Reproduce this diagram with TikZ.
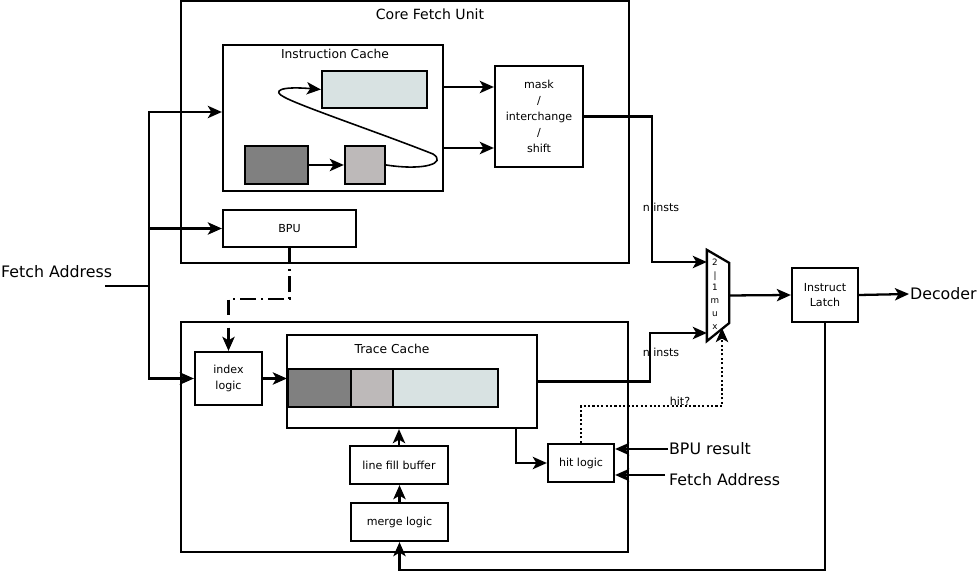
\documentclass[tikz,border=0pt]{standalone}
\usepackage{fontspec}
\setmainfont{DejaVu Sans}
\usetikzlibrary{arrows.meta}
\definecolor{cachedark}{HTML}{808080}
\definecolor{cachemid}{HTML}{BDB9B9}
\definecolor{cachelight}{HTML}{D8E2E2}

\begin{document}
\begin{tikzpicture}[x=0.02cm,y=-0.02cm,line width=1.3pt,>={Stealth[length=8pt,width=7pt,inset=2pt]},
    blk/.style={draw,inner sep=0pt,align=center,font=\fontsize{6.3}{9}\selectfont},
    cell/.style={draw,inner sep=0pt,minimum height=0.76cm},
    ttl/.style={inner sep=0pt,font=\fontsize{7}{8}\selectfont},
    sml/.style={inner sep=0pt,font=\fontsize{6.3}{8}\selectfont},
    big/.style={inner sep=0pt,anchor=west,font=\fontsize{9}{10}\selectfont},
    dashdot/.style={dash pattern=on 9pt off 3pt on 1pt off 3pt},
    dots/.style={dash pattern=on 1.2pt off 1.3pt}]

    \useasboundingbox (0,0) rectangle (978,573);

    \node[draw,minimum width=8.96cm,minimum height=5.24cm] at (405,132) (core) {};
    \node[inner sep=0pt,font=\fontsize{8}{9}\selectfont] at (430,14) (coretitle) {Core Fetch Unit};
    \node[draw,minimum width=4.4cm,minimum height=2.92cm] at (333,118) (IC) {};
    \node[ttl] at (335,54) (ICtitle) {Instruction Cache};
    \node[cell,fill=cachelight,minimum width=2.1cm,minimum height=0.74cm] at (374.5,89.5) (lblue) {};
    \node[cell,fill=cachedark,minimum width=1.26cm] at (276.5,165) (dark) {};
    \node[cell,fill=cachemid,minimum width=0.8cm] at (365,165) (lgray) {};
    \node[blk,minimum width=1.76cm,minimum height=2.02cm] at (539,116.5) (mask) {mask\\/\\interchange\\/\\shift};
    \node[blk,minimum width=2.66cm,minimum height=0.74cm] at (289.5,228.5) (BPU) {BPU};

    \node[draw,minimum width=8.94cm,minimum height=4.6cm] at (404.5,437) (trace) {};
    \node[blk,minimum width=1.34cm,minimum height=1.06cm] at (228.5,378.5) (index) {index\\logic};
    \node[draw,minimum width=5cm,minimum height=1.86cm] at (412,381.5) (TC) {};
    \node[ttl] at (392,349) (TCtitle) {Trace Cache};
    \node[cell,fill=cachedark,minimum width=1.26cm] at (319.5,388) (tdark) {};
    \node[cell,fill=cachemid,minimum width=0.84cm] at (372,388) (tmid) {};
    \node[cell,fill=cachelight,minimum width=2.1cm] at (445.5,388) (tlight) {};
    \node[blk,minimum width=1.32cm,minimum height=0.76cm] at (581,463) (hit) {hit logic};
    \node[blk,minimum width=1.96cm,minimum height=0.76cm] at (399,465) (lfb) {line fill buffer};
    \node[blk,minimum width=1.94cm,minimum height=0.76cm] at (399.5,522) (merge) {merge logic};

    \node[minimum width=0.4cm,minimum height=1.78cm,inner sep=0pt] at (718,295.5) (mux) {};
    \draw (mux.north west) -- ([yshift=-0.26cm]mux.north east) -- ([yshift=0.36cm]mux.south east) -- (mux.south west) -- cycle;
    \node[inner sep=0pt,align=center,font=\fontsize{5}{7.3}\selectfont] at (715,294) (muxlbl) {2\\|\\1\\m\\u\\x};
    \node[blk,minimum width=1.32cm,minimum height=1.08cm] at (825,295) (latch) {Instruct\\Latch};

    \node[big] at (0,272) (fetch) {Fetch Address};
    \node[big] at (909,294) (decoder) {Decoder};
    \node[big] at (668,449) (bpures) {BPU result};
    \node[big] at (668,480) (fetch2) {Fetch Address};
    \node[sml] at (661,207) (ninsts1) {n insts};
    \node[sml] at (661,352) (ninsts2) {n insts};
    \node[sml] at (680,401) (hitq) {hit?};

    \coordinate (fetchin) at (105,286);
    \coordinate (fork) at (149,286);
    \coordinate (fetchin2) at (665,475);
    \coordinate (muxhit) at (722,328);

    \draw (fetchin) -- (fork);
    \draw[->] (fork) |- (IC.west |- 0,112);
    \draw[->] (fork) |- (BPU.west);
    \draw[->] (fork) |- (index.west);
    \draw[->] (dark.east) -- (lgray.west);
    \draw[->,line width=0.9pt] (lgray.east) .. controls (425,171) and (447,163) .. (433,154) .. controls (380,133) and (300,106) .. (284,97) .. controls (272,91) and (280,86) .. (lblue.west);
    \draw[->] (IC.east |- 0,87) -- (mask.west |- 0,87);
    \draw[->] (IC.east |- 0,148) -- (mask.west |- 0,148);
    \draw[->] (mask.east) -- (652,116.5) |- (mux.west |- 0,262);
    \draw[->,dashdot] (BPU.south) |- (index.north |- 0,299) -- (index.north);
    \draw[->] (index.east) -- (tdark.west |- index.east);
    \draw[->] (TC.east) -- (650,381.5) |- (mux.west |- 0,333);
    \draw[->] (TC.south -| 516,0) |- (hit.west);
    \draw[->,dots] (hit.north) |- (muxhit |- 0,406) -- (muxhit);
    \draw[->] (bpures.west) -- (hit.east |- bpures.west);
    \draw[->] (fetchin2) -- (hit.east |- fetchin2);
    \draw[->] (lfb.north) -- (lfb.north |- TC.south);
    \draw[->] (merge.north) -- (merge.north |- lfb.south);
    \draw[->] (mux.east) -- (latch.west);
    \draw[->] (latch.east) -- (decoder.west);
    \draw[->] (latch.south) -- (latch.south |- 0,570) -| (merge.south);
\end{tikzpicture}
\end{document}
